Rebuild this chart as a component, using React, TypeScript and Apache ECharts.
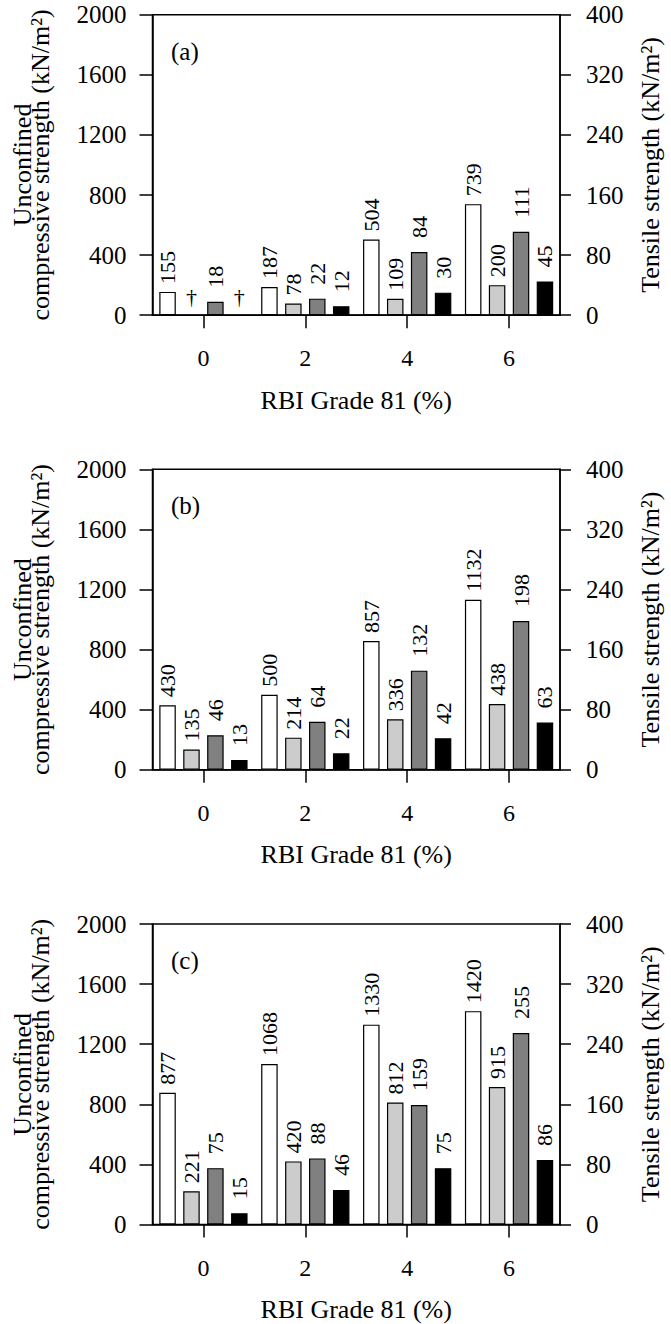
import React, { useEffect, useRef } from "react";
import * as echarts from "echarts";

// RBI Grade 81 content (%)
const categories = ["0", "2", "4", "6"];
const panelTags = ["(a)", "(b)", "(c)"];

// Unconfined compressive strength (left axis, kN/m2)
const ucsWhiteA = [155, 187, 504, 739];
const ucsGreyA = [null, 78, 109, 200];
const ucsWhiteB = [430, 500, 857, 1132];
const ucsGreyB = [135, 214, 336, 438];
const ucsWhiteC = [877, 1068, 1330, 1420];
const ucsGreyC = [221, 420, 812, 915];

// Tensile strength (right axis, kN/m2)
const tsDarkA = [18, 22, 84, 111];
const tsBlackA = [null, 12, 30, 45];
const tsDarkB = [46, 64, 132, 198];
const tsBlackB = [13, 22, 42, 63];
const tsDarkC = [75, 88, 159, 255];
const tsBlackC = [15, 46, 75, 86];

const panels = [
  { tag: panelTags[0], ucs1: ucsWhiteA, ucs2: ucsGreyA, ts1: tsDarkA, ts2: tsBlackA },
  { tag: panelTags[1], ucs1: ucsWhiteB, ucs2: ucsGreyB, ts1: tsDarkB, ts2: tsBlackB },
  { tag: panelTags[2], ucs1: ucsWhiteC, ucs2: ucsGreyC, ts1: tsDarkC, ts2: tsBlackC },
];

const FONT = "Liberation Serif";
const GRID_TOPS = [14.7, 469.3, 924];
const GRID_LEFT = 152.5;
const GRID_WIDTH = 413.5;
const GRID_HEIGHT = 300.5;
const LINE_W = 1.5;

const plain = (v: number) => String(v);

function buildOption() {
  const grid: any[] = [];
  const xAxis: any[] = [];
  const yAxis: any[] = [];
  const series: any[] = [];
  const graphic: any[] = [];

  const axisLine = { show: true, lineStyle: { color: "#000", width: LINE_W } };

  panels.forEach((p, i) => {
    grid.push({
      left: GRID_LEFT,
      top: GRID_TOPS[i],
      width: GRID_WIDTH,
      height: GRID_HEIGHT,
      show: true,
      borderColor: "#000",
      borderWidth: LINE_W,
      backgroundColor: "transparent",
    });
    xAxis.push({
      type: "category",
      gridIndex: i,
      data: categories,
      axisLine,
      axisTick: { show: true, alignWithLabel: true, length: 13, lineStyle: { color: "#000", width: LINE_W } },
      axisLabel: { margin: 31, fontSize: 24, color: "#000", fontFamily: FONT },
      splitLine: { show: false },
      name: "RBI Grade 81 (%)",
      nameLocation: "middle",
      nameGap: 72,
      nameTextStyle: { fontSize: 26, color: "#000", fontFamily: FONT },
    });
    yAxis.push({
      type: "value",
      gridIndex: i,
      position: "left",
      min: 0,
      max: 2000,
      interval: 400,
      axisLine,
      axisTick: { show: true, length: 13, lineStyle: { color: "#000", width: LINE_W } },
      axisLabel: { margin: 26, fontSize: 25, color: "#000", fontFamily: FONT, formatter: plain },
      splitLine: { show: false },
      name: "Unconfined\ncompressive strength (kN/m\u00B2)",
      nameLocation: "middle",
      nameGap: 103,
      nameTextStyle: { fontSize: 26, lineHeight: 18, color: "#000", fontFamily: FONT },
    });
    yAxis.push({
      type: "value",
      gridIndex: i,
      position: "right",
      min: 0,
      max: 400,
      interval: 80,
      axisLine,
      axisTick: { show: true, length: 11, lineStyle: { color: "#000", width: LINE_W } },
      axisLabel: { margin: 26, fontSize: 25, color: "#000", fontFamily: FONT, formatter: plain },
      splitLine: { show: false },
      name: "Tensile strength (kN/m\u00B2)",
      nameLocation: "middle",
      nameGap: 77,
      nameTextStyle: { fontSize: 26, color: "#000", fontFamily: FONT },
    });

    const defs = [
      { name: "UCS (white)", data: p.ucs1, color: "#ffffff", axis: 2 * i, dist: 8 },
      { name: "UCS (light grey)", data: p.ucs2, color: "#cccccc", axis: 2 * i, dist: 8 },
      { name: "Tensile (dark grey)", data: p.ts1, color: "#808080", axis: 2 * i + 1, dist: 14 },
      { name: "Tensile (black)", data: p.ts2, color: "#000000", axis: 2 * i + 1, dist: 14 },
    ];
    defs.forEach((d) => {
      series.push({
        type: "bar",
        name: d.name,
        xAxisIndex: i,
        yAxisIndex: d.axis,
        barWidth: 16.5,
        barGap: "45%",
        itemStyle: { color: d.color, borderColor: "#000", borderWidth: 1.2 },
        label: {
          show: true,
          position: "top",
          rotate: 90,
          align: "left",
          verticalAlign: "middle",
          distance: d.dist,
          fontSize: 22,
          color: "#000",
          fontFamily: FONT,
        },
        data: d.data.map((v) =>
          v === null
            ? {
                value: 0,
                itemStyle: { color: "transparent", borderColor: "transparent", borderWidth: 0 },
                label: {
                  formatter: "\u2020",
                  rotate: 0,
                  align: "center",
                  verticalAlign: "bottom",
                  distance: 8,
                  fontSize: 22,
                },
              }
            : v
        ),
      });
    });

    graphic.push({
      type: "text",
      left: 171,
      top: GRID_TOPS[i] + 24,
      style: { text: p.tag, fontSize: 25, fontFamily: FONT, fill: "#000" },
    });
  });

  return {
    animation: false,
    backgroundColor: "#ffffff",
    textStyle: { fontFamily: FONT },
    grid,
    xAxis,
    yAxis,
    series,
    graphic,
  };
}

export default function App() {
  const ref = useRef<HTMLDivElement>(null);
  useEffect(() => {
    if (!ref.current) return;
    const chart = echarts.init(ref.current, undefined, { renderer: "svg" });
    chart.setOption(buildOption());
    return () => chart.dispose();
  }, []);
  return (
    <div
      ref={ref}
      style={{ position: "absolute", left: 0, top: 0, width: 671, height: 1324, background: "#fff" }}
    />
  );
}
